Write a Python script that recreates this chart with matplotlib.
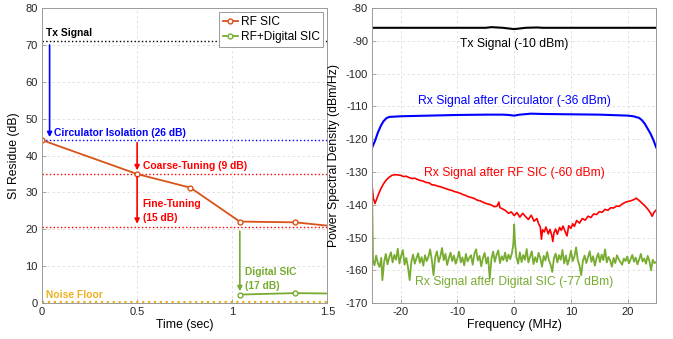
import matplotlib
matplotlib.use("Agg")
import matplotlib.pyplot as plt

plt.rcParams['font.family'] = ['Liberation Sans', 'DejaVu Sans']
plt.rcParams['axes.unicode_minus'] = False

# ---- Left panel data ----
rf_time = [0.0, 0.5, 0.78, 1.04, 1.33, 1.5]
rf_sic = [44.2, 35.0, 31.3, 22.1, 21.9, 21.0]
dig_time = [1.04, 1.33, 1.5]
dig_sic = [2.3, 2.7, 2.6]
tx_level = 71.0
circ_level = 44.2
coarse_level = 35.0
fine_level = 20.6
noise_level = 0.4

# ---- Right panel data ----
tx_f = [-25, -10, -5, -4, -2, -1, 0, 1, 2, 4, 5, 10, 25]
tx_psd = [-86.0, -86.0, -86.0, -85.8, -86.0, -86.2, -86.4, -86.2, -86.0, -85.9, -86.0, -86.0, -86.0]

circ_f = [-25, -24.5, -24, -23.5, -23, -22.5, -22, -20, -15, -10, -5, -2, -1, 0, 1, 3, 5, 10, 15, 20, 21, 22, 22.5,
          23, 23.5, 24, 24.5, 25]
circ_psd = [-122.5, -120.5, -118, -116, -114.5, -113.6, -113.2, -113.0, -112.8, -112.6, -112.5, -112.5, -112.6,
            -112.8, -112.5, -112.2, -112.3, -112.4, -112.5, -112.8, -113.0, -113.5, -114.2, -115.3, -116.8, -118.3,
            -120.2, -122.5]

rf_f = [-25, -24.8, -24.5, -24, -23.5, -23, -22.5, -22, -21.5, -21,
        -20.5, -20, -19.5, -19, -18.5, -18, -17.5, -17, -16.5, -16,
        -15.5, -15, -14.5, -14, -13.5, -13, -12.5, -12, -11.5, -11,
        -10.5, -10, -9.5, -9, -8.5, -8, -7.5, -7, -6.5, -6,
        -5.5, -5, -4.5, -4, -3.5, -3, -2.7, -2.5, -2, -1.5,
        -1, -0.5, 0, 0.5, 1, 1.5, 2, 2.5, 3, 3.5,
        4, 4.3, 4.6, 4.8, 5, 5.3, 5.6, 6, 6.3, 6.6,
        6.8, 7, 7.3, 7.6, 8, 8.3, 8.6, 9, 9.3, 9.6,
        10, 10.3, 10.6, 11, 11.5, 12, 12.5, 13, 13.5, 14,
        14.5, 15, 15.5, 16, 16.5, 17, 17.5, 18, 18.5, 19,
        19.5, 20, 20.5, 21, 21.5, 22, 22.5, 23, 23.5, 24,
        24.3, 24.6, 25]
rf_psd = [-134.5, -138.0, -139.6, -137.3, -135.2, -133.6, -132.4, -131.6, -131.0, -130.8,
          -130.9, -131.0, -131.4, -131.3, -131.7, -132.0, -131.9, -132.3, -132.6, -132.8,
          -133.2, -133.3, -133.9, -134.0, -134.3, -134.5, -134.8, -135.1, -135.4, -135.6,
          -136.0, -136.2, -136.5, -136.9, -137.2, -137.6, -137.8, -138.1, -138.6, -138.8,
          -139.2, -139.6, -139.8, -140.1, -140.6, -140.4, -139.2, -140.9, -141.3, -141.8,
          -142.6, -142.2, -143.3, -142.4, -143.8, -142.6, -143.6, -144.5, -143.2, -145.0,
          -144.2, -145.8, -146.8, -150.5, -147.6, -148.3, -146.8, -148.9, -147.5, -149.2,
          -151.2, -148.6, -147.4, -149.0, -146.9, -147.8, -146.5, -148.3, -149.5, -146.4,
          -147.2, -145.8, -146.6, -144.8, -145.6, -144.2, -144.7, -143.5, -143.9, -142.8,
          -143.0, -142.1, -142.3, -141.4, -141.7, -140.9, -141.0, -140.4, -140.5, -139.8,
          -139.3, -139.0, -138.8, -138.5, -138.0, -138.7, -139.5, -140.3, -141.3, -142.5,
          -143.5, -142.4, -141.6]

dig_f = [-25.0, -24.85, -24.6, -24.3, -24.0, -23.7, -23.4, -23.2, -22.9, -22.6, -22.3, -22.0, -21.7, -21.4, -21.1,
         -20.8, -20.5, -20.2, -19.9, -19.6, -19.3, -19.0, -18.7, -18.4, -18.1, -17.8, -17.5, -17.2, -16.9, -16.6,
         -16.3, -16.0, -15.7, -15.4, -15.1, -14.8, -14.5, -14.2, -13.9, -13.6, -13.3, -13.0, -12.7, -12.4, -12.1,
         -11.8, -11.5, -11.2, -10.9, -10.6, -10.3, -10.0, -9.7, -9.4, -9.1, -8.8, -8.5, -8.2, -7.9, -7.6, -7.3,
         -7.0, -6.7, -6.4, -6.1, -5.8, -5.5, -5.2, -4.9, -4.6, -4.3, -4.0, -3.7, -3.4, -3.1, -2.8, -2.5, -2.2,
         -1.9, -1.6, -1.3, -1.0, -0.7, -0.4, -0.15, 0.0, 0.15, 0.4, 0.7, 1.0, 1.3, 1.6, 1.9, 2.2, 2.5, 2.8, 3.1,
         3.4, 3.7, 4.0, 4.3, 4.6, 4.9, 5.2, 5.5, 5.8, 6.1, 6.4, 6.7, 7.0, 7.3, 7.6, 7.9, 8.2, 8.5, 8.8, 9.1, 9.4,
         9.7, 10.0, 10.3, 10.6, 10.9, 11.2, 11.5, 11.8, 12.1, 12.4, 12.7, 13.0, 13.3, 13.6, 13.9, 14.2, 14.5,
         14.8, 15.1, 15.4, 15.7, 16.0, 16.3, 16.6, 16.9, 17.2, 17.5, 17.8, 18.1, 18.4, 18.7, 19.0, 19.3, 19.6,
         19.9, 20.2, 20.5, 20.8, 21.1, 21.4, 21.7, 22.0, 22.3, 22.6, 22.9, 23.2, 23.5, 23.8, 24.1, 24.4, 24.7, 25.0]
dig_psd = [-137.5, -157.0, -158.5, -155.5, -157.8, -159.0, -156.2, -163.0, -157.5, -155.0, -158.2, -156.0, -154.5,
           -157.6, -155.3, -156.8, -153.4, -157.9, -155.6, -153.8, -158.3, -156.2, -159.0, -163.0, -157.4, -155.2,
           -158.0, -156.3, -154.8, -157.7, -156.0, -158.6, -155.4, -157.2, -155.9, -153.6, -156.8, -161.5, -156.0,
           -154.2, -157.5, -155.8, -153.2, -156.9, -155.0, -158.4, -156.3, -154.6, -157.2, -155.5, -158.0, -156.4,
           -154.3, -157.6, -156.1, -158.5, -155.0, -157.3, -156.2, -155.4, -158.3, -154.9, -153.6, -157.0, -155.6,
           -158.8, -156.2, -154.7, -157.9, -156.0, -162.5, -156.5, -154.3, -157.4, -155.3, -153.9, -157.8, -155.7,
           -156.9, -154.6, -157.3, -155.2, -156.6, -154.8, -152.0, -146.0, -151.5, -156.0, -158.0, -154.5, -157.5,
           -155.3, -156.8, -153.5, -157.6, -155.9, -154.2, -158.1, -156.0, -157.5, -154.7, -156.3, -158.9, -155.6,
           -157.0, -154.4, -156.8, -158.2, -160.5, -156.3, -154.9, -157.6, -155.4, -156.8, -153.8, -157.9, -155.5,
           -158.3, -156.6, -154.0, -157.2, -155.8, -153.0, -156.9, -158.6, -161.5, -157.1, -155.5, -157.8, -156.0,
           -154.2, -157.4, -155.7, -158.6, -156.3, -154.8, -157.5, -155.2, -156.9, -153.6, -157.6, -155.9, -157.0,
           -158.9, -156.2, -157.8, -155.4, -156.6, -157.5, -158.3, -156.4, -157.2, -155.8, -157.9, -156.6, -155.3,
           -157.4, -156.1, -158.2, -156.7, -155.0, -157.3, -156.4, -158.0, -155.6, -157.1, -160.0, -156.8, -157.8,
           -157.5]

fig = plt.figure(figsize=(6.73, 3.39), dpi=100)
axL = fig.add_axes([0.0624, 0.106, 0.424, 0.870])
axR = fig.add_axes([0.553, 0.106, 0.422, 0.870])

orange = '#D95319'
green = '#77AC30'
blue = '#0000FF'
red = '#FF0000'
gold = '#EDB120'
spine_c = '#9a9a9a'

for ax in (axL, axR):
    ax.grid(True, linestyle=(0, (3, 3)), color='#dcdcdc', linewidth=0.6)
    ax.set_axisbelow(True)
    for s in ax.spines.values():
        s.set_color(spine_c)
        s.set_linewidth(0.7)
    ax.tick_params(direction='in', length=3, width=0.6, labelsize=8, color=spine_c,
                   labelcolor='#262626', pad=3)

# Left panel
axL.axhline(tx_level, color='black', linestyle=':', linewidth=1.0)
axL.axhline(circ_level, color=blue, linestyle=':', linewidth=1.0)
axL.axhline(coarse_level, color=red, linestyle=':', linewidth=1.0)
axL.axhline(fine_level, color=red, linestyle=':', linewidth=1.0)
axL.axhline(noise_level, color=gold, linestyle=':', linewidth=1.6)

l1, = axL.plot(rf_time, rf_sic, color=orange, linewidth=1.3, marker='o', markersize=3.5,
               markerfacecolor='white', markeredgewidth=1.0, markevery=[0, 1, 2, 3, 4], label='RF SIC')
l2, = axL.plot(dig_time, dig_sic, color=green, linewidth=1.3, marker='o', markersize=3.5,
               markerfacecolor='white', markeredgewidth=1.0, markevery=[0, 1], label='RF+Digital SIC')


def arrow(ax, x, y0, y1, c):
    ax.annotate('', xy=(x, y1), xytext=(x, y0),
                arrowprops=dict(arrowstyle='-|>', color=c, lw=1.2, mutation_scale=7, shrinkA=0, shrinkB=0))


arrow(axL, 0.04, 70, 45, blue)
arrow(axL, 0.5, 43.5, 36, red)
arrow(axL, 0.5, 34.3, 21.5, red)
arrow(axL, 1.04, 19.5, 3.2, green)

fs = 7.4
axL.text(0.02, 72, 'Tx Signal', color='black', fontsize=fs, fontweight='bold', va='bottom')
axL.text(0.065, 46.2, 'Circulator Isolation (26 dB)', color=blue, fontsize=fs, fontweight='bold', va='center')
axL.text(0.53, 37.3, 'Coarse-Tuning (9 dB)', color=red, fontsize=fs, fontweight='bold', va='center')
axL.text(0.53, 24.9, 'Fine-Tuning\n(15 dB)', color=red, fontsize=fs, fontweight='bold', va='center', linespacing=1.55)
axL.text(1.065, 6.6, 'Digital SIC\n(17 dB)', color=green, fontsize=fs, fontweight='bold', va='center', linespacing=1.55)
axL.text(0.02, 2.3, 'Noise Floor', color=gold, fontsize=fs, fontweight='bold', va='center')

axL.set_xlim(0, 1.5)
axL.set_ylim(0, 80)
axL.set_xticks([0, 0.5, 1, 1.5])
axL.set_xticklabels(['0', '0.5', '1', '1.5'])
axL.set_yticks(range(0, 81, 10))
axL.set_xlabel('Time (sec)', fontsize=8.8, labelpad=1)
axL.set_ylabel('SI Residue (dB)', fontsize=8.8, labelpad=4)
leg = axL.legend(handles=[l1, l2], loc='upper right', fontsize=8.6, frameon=True, fancybox=False,
                 edgecolor=spine_c, handlelength=1.3, handletextpad=0.2, borderpad=0.3,
                 labelspacing=0.3, borderaxespad=0.35, framealpha=1)
leg.get_frame().set_linewidth(0.7)

# Right panel
axR.plot(tx_f, tx_psd, color='black', linewidth=1.5)
axR.plot(circ_f, circ_psd, color=blue, linewidth=1.5)
axR.plot(rf_f, rf_psd, color=red, linewidth=1.2)
axR.plot(dig_f, dig_psd, color=green, linewidth=1.3)

fs2 = 8.7
axR.text(0, -91, 'Tx Signal (-10 dBm)', color='black', fontsize=fs2, ha='center', va='center')
axR.text(0, -108.2, 'Rx Signal after Circulator (-36 dBm)', color=blue, fontsize=fs2, ha='center', va='center')
axR.text(0, -130.2, 'Rx Signal after RF SIC (-60 dBm)', color=red, fontsize=fs2, ha='center', va='center')
axR.text(0, -163.7, 'Rx Signal after Digital SIC (-77 dBm)', color=green, fontsize=fs2, ha='center', va='center')

axR.set_xlim(-25, 25)
axR.set_ylim(-170, -80)
axR.set_xticks([-20, -10, 0, 10, 20])
axR.set_yticks(range(-170, -79, 10))
axR.set_xlabel('Frequency (MHz)', fontsize=8.8, labelpad=1)
axR.set_ylabel('Power Spectral Density (dBm/Hz)', fontsize=8.8, labelpad=4)

fig.savefig('out.png', dpi=100)
